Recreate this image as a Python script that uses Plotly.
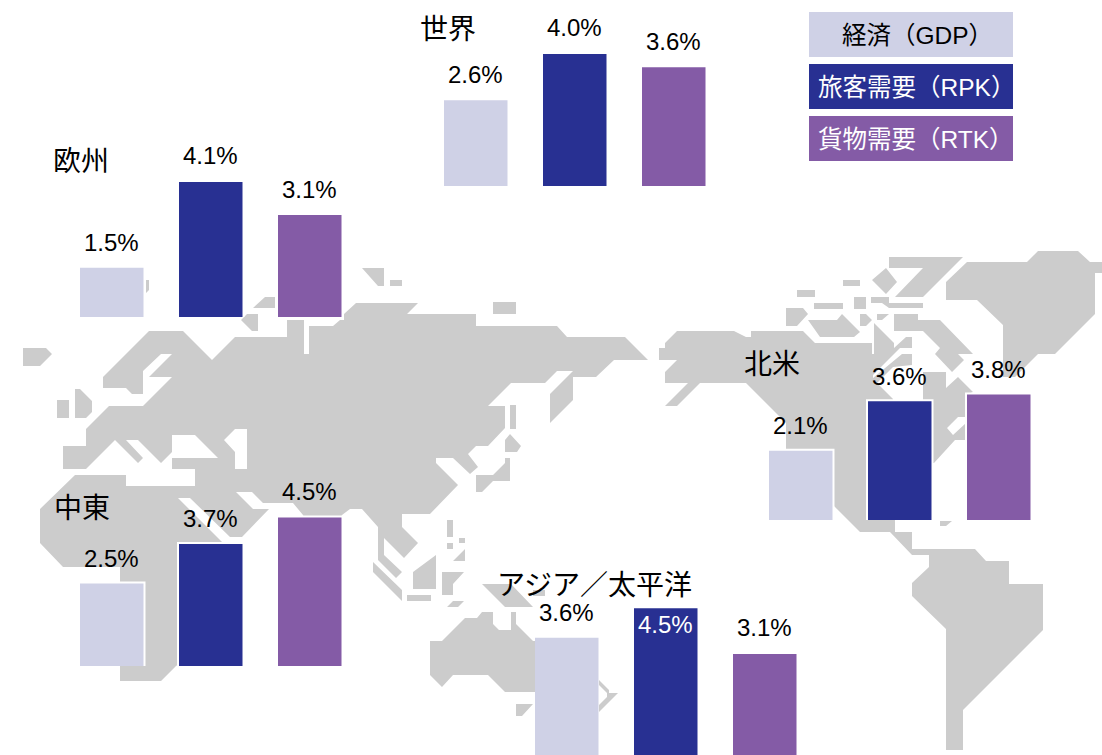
import plotly.graph_objects as go

# ---------- data ----------
SERIES = ["経済\uff08GDP\uff09", "旅客需要\uff08RPK\uff09", "貨物需要\uff08RTK\uff09"]
REGIONS = ["世界", "欧州", "中東", "北米", "アジア\uff0f太平洋"]
WORLD = [2.6, 4.0, 3.6]
EUROPE = [1.5, 4.1, 3.1]
MIDDLE_EAST = [2.5, 3.7, 4.5]
NORTH_AMERICA = [2.1, 3.6, 3.8]
ASIA_PACIFIC = [3.6, 4.5, 3.1]

# ---------- styles ----------
COLORS = ["#CFD1E6", "#283092", "#845BA6"]
LEGEND_TEXT = ["#000000", "#FFFFFF", "#FFFFFF"]
GREY = "#CCCCCC"
FONT = "Liberation Sans, Noto Sans CJK JP, sans-serif"
W, H = 1102, 755
STEP = 99
BAR = 63.5

# backdrop map outlines, in picture pixels
LAND = [
    [(40,509),(75,475),(126,475),(126,486),(195,486),(195,469),(172,469),(172,458),(218,458),(195,435),(172,435),(172,452),
     (161,463),(138,440),(126,440),(143,458),(138,463),(115,440),(86,469),(63,469),(63,446),(86,446),(86,429),(109,406),
     (143,406),(172,377),(149,377),(172,354),(161,354),(143,371),(143,394),(132,394),(126,388),(103,388),(103,377),(149,331),
     (183,331),(212,360),(235,337),(287,337),(287,320),(304,320),(304,354),(309,354),(309,326),(333,326),(340,320),(344,320),
     (344,314),(356,303),(418,303),(407,314),(476,314),(476,326),(557,326),(567,337),(625,337),(648,360),(614,360),(596,377),
     (573,377),(573,371),(557,371),(545,383),(511,383),(488,406),(505,406),(505,428),(488,446),(476,446),(468,454),(478,467),
     (470,474),(453,458),(436,458),(436,463),(458,485),(430,514),(402,514),(402,527),(418,543),(404,558),(384,538),(384,555),
     (402,572),(396,578),(378,560),(378,527),(362,509),(350,509),(342,515),(322,560),(303,515),(293,503),(263,503),(252,492),
     (236,492),(253,509),(269,509),(242,537),(230,537),(190,498),(178,498),(222,542),(200,650),(176,666),(161,681),(120,681),
     (120,567),(63,567),(40,543)],
    [(23,348),(46,348),(52,354),(40,366),(23,366)],
    [(146,280),(149,280),(149,290),(146,293)],
    [(57,400),(69,400),(69,418),(57,418)],
    [(75,389),(80,389),(92,401),(92,412),(86,418),(75,418)],
    [(253,308),(265,297),(275,297),(275,308)],
    [(241,320),(247,314),(258,314),(258,331),(252,331)],
    [(362,268),(384,268),(384,286),(378,286)],
    [(390,280),(402,280),(402,286),(390,286)],
    [(493,302),(516,302),(516,314),(493,314)],
    [(550,394),(573,371),(573,400),(550,423)],
    [(510,405),(516,405),(516,429),(510,429)],
    [(505,440),(510,434),(521,446),(517,452),(505,452)],
    [(476,475),(493,475),(505,463),(505,458),(510,458),(510,481),(493,481),(482,492),(476,492)],
    [(447,520),(453,520),(453,537),(447,537)],
    [(459,538),(465,538),(465,543),(459,543)],
    [(447,543),(453,543),(453,549),(447,549)],
    [(453,561),(465,549),(465,561)],
    [(413,572),(436,555),(436,589),(413,589)],
    [(373,562),(402,590),(402,601),(373,572)],
    [(407,595),(431,595),(431,601),(407,601)],
    [(442,572),(464,572),(453,584),(453,595),(442,595)],
    [(447,607),(453,601),(464,601),(458,607)],
    [(482,584),(511,584),(533,607),(505,607)],
    [(533,590),(545,590),(545,596),(533,596)],
    [(430,641),(442,641),(465,618),(477,618),(482,612),(493,612),(493,624),(499,630),(511,630),(511,612),(516,612),(516,624),
     (533,641),(545,641),(545,692),(505,692),(488,675),(453,675),(442,687),(430,675)],
    [(516,704),(533,704),(522,716),(516,716)],
    [(599,680),(609,690),(609,693),(618,693),(599,712),(599,705),(607,697),(607,693),(599,685)],
    [(659,348),(665,348),(665,343),(677,331),(734,331),(746,337),(751,337),(751,331),(803,331),(815,343),(872,343),(872,354),
     (874,354),(874,323),(894,343),(894,348),(906,337),(912,337),(912,348),(900,348),(873,375),(873,378),(902,354),(912,354),
     (912,365),(893,367),(877,383),(893,399),(895,522),(895,532),(912,532),(912,549),(975,549),(986,561),(1009,561),(1009,584),
     (1043,584),(1043,630),(963,710),(963,750),(946,750),(946,629),(912,596),(912,583),(929,567),(929,555),(912,555),(890,532),
     (860,532),(835,507),(786,460),(786,423),(746,383),(700,383),(677,406),(665,406),(688,383),(665,383),(665,372),(677,360),(659,360)],
    [(923,372),(946,372),(946,388),(958,377),(973,392),(966,395),(966,417),(958,417),(947,428),(953,435),(966,423),(966,440),
     (955,440),(934,463),(925,463),(923,420)],
    [(940,521),(952,521),(946,526),(940,526)],
    [(946,282),(967,262),(1027,262),(1038,251),(1078,251),(1090,262),(1102,262),(1102,273),(1095,273),(1095,314),(1055,354),
     (1038,354),(1015,377),(1003,377),(1003,325),(977,300),(946,300)],
    [(889,257),(963,257),(923,297),(895,297),(923,268),(889,268)],
    [(872,280),(886,268),(897,282),(886,294)],
    [(843,280),(860,280),(860,286),(843,286)],
    [(797,290),(815,290),(815,297),(797,297)],
    [(854,297),(866,297),(866,309),(854,309)],
    [(871,297),(889,297),(889,303),(923,303),(923,308),(889,308),(882,303),(871,303)],
    [(814,303),(843,303),(843,309),(814,309)],
    [(786,308),(803,308),(808,314),(797,326),(786,326)],
    [(808,320),(837,320),(842,314),(860,332),(854,337),(820,337)],
    [(860,314),(866,314),(872,320),(866,326),(860,326)],
    [(877,314),(889,314),(882,320),(877,320)],
    [(894,314),(918,314),(918,320),(940,320),(973,354),(958,354),(964,360),(952,372),(935,354),(940,348),(923,331),(894,331)],
]
CASPIAN = [(224,440),(235,429),(247,429),(247,469),(235,469),(235,452)]

fig = go.Figure()


def outline(polys):
    xs, ys = [], []
    for p in polys:
        xs += [q[0] for q in p] + [p[0][0], None]
        ys += [q[1] for q in p] + [p[0][1], None]
    return xs, ys


lx, ly = outline(LAND)
fig.add_trace(go.Scatter(x=lx, y=ly, fill="toself", fillcolor=GREY, mode="lines",
                         line=dict(width=0, color=GREY), hoverinfo="skip", showlegend=False,
                         xaxis="x", yaxis="y"))
cx, cy = outline([CASPIAN])
fig.add_trace(go.Scatter(x=cx, y=cy, fill="toself", fillcolor="#FFFFFF", mode="lines",
                         line=dict(width=0, color="#FFFFFF"), hoverinfo="skip", showlegend=False,
                         xaxis="x", yaxis="y"))

layout = dict(
    width=W, height=H, autosize=False, margin=dict(l=0, r=0, t=0, b=0),
    paper_bgcolor="#FFFFFF", plot_bgcolor="rgba(0,0,0,0)", showlegend=False, barmode="overlay",
    xaxis=dict(domain=[0, 1], range=[0, W], visible=False, fixedrange=True),
    yaxis=dict(domain=[0, 1], range=[H, 0], visible=False, fixedrange=True),
    font=dict(family=FONT, color="#000000"),
)
annotations = []
shapes = []

# region: values, left edge of first bar, baseline (px), px per unit, halo, label offsets
GROUPS = [
    (WORLD, 444, 186, 33.0, False, [26, 26, 26]),
    (EUROPE, 80, 317, 32.9, True, [25, 27, 26]),
    (MIDDLE_EAST, 80, 666, 33.0, True, [25, 25, 26]),
    (NORTH_AMERICA, 769, 520, 33.0, True, [25, 25, 25]),
    (ASIA_PACIFIC, 535, 755, 32.6, False, [25, -16, 26]),
]
for i, (vals, left, base, scale, halo, offs) in enumerate(GROUPS):
    n = i + 2
    x0 = left - (STEP - BAR) / 2
    layout[f"xaxis{n}"] = dict(domain=[x0 / W, (x0 + 3 * STEP) / W], range=[-0.5, 2.5],
                               visible=False, fixedrange=True, anchor=f"y{n}")
    layout[f"yaxis{n}"] = dict(domain=[(H - base) / H, (H - base + 5 * scale) / H], range=[0, 5],
                               visible=False, fixedrange=True, anchor=f"x{n}")
    xs = [0, 1, 2]
    if halo:
        fig.add_trace(go.Bar(x=xs, y=vals, width=BAR / STEP, marker=dict(color="#FFFFFF", line=dict(color="#FFFFFF", width=4)),
                             hoverinfo="skip", showlegend=False, xaxis=f"x{n}", yaxis=f"y{n}", cliponaxis=False))
    fig.add_trace(go.Bar(x=xs, y=vals, width=BAR / STEP, marker=dict(color=COLORS, line=dict(width=0)),
                         hoverinfo="skip", showlegend=False, xaxis=f"x{n}", yaxis=f"y{n}", cliponaxis=False))
    for k, v in enumerate(vals):
        annotations.append(dict(x=k, y=v, xref=f"x{n}", yref=f"y{n}", text=f"{v:.1f}%", showarrow=False,
                                yanchor="middle", xanchor="center", yshift=offs[k],
                                font=dict(size=24, family=FONT, color="#FFFFFF" if offs[k] < 0 else "#000000")))

TITLE_POS = [(448, 30), (81, 162), (82, 509), (772, 364), (594, 585)]
for name, (px, py) in zip(REGIONS, TITLE_POS):
    annotations.append(dict(x=px / W, y=1 - py / H, xref="paper", yref="paper", text=name, showarrow=False,
                            xanchor="center", yanchor="middle", font=dict(size=28, family=FONT, color="#000000")))

LEG_Y = [12, 64, 116]
LEG_X = [917, 916, 916]
for name, top, col, tc, lxc in zip(SERIES, LEG_Y, COLORS, LEGEND_TEXT, LEG_X):
    shapes.append(dict(type="rect", xref="paper", yref="paper", x0=809 / W, x1=1013 / W,
                       y0=1 - top / H, y1=1 - (top + 45) / H, fillcolor=col, line=dict(width=0), layer="above"))
    annotations.append(dict(x=lxc / W, y=1 - (top + 23) / H, xref="paper", yref="paper", text=name, showarrow=False,
                            xanchor="center", yanchor="middle", font=dict(size=24.5, family=FONT, color=tc)))

layout["annotations"] = annotations
layout["shapes"] = shapes
fig.update_layout(**layout)

fig.write_html("out.html", config=dict(displayModeBar=False),
               post_script="document.body.style.margin='0';")
